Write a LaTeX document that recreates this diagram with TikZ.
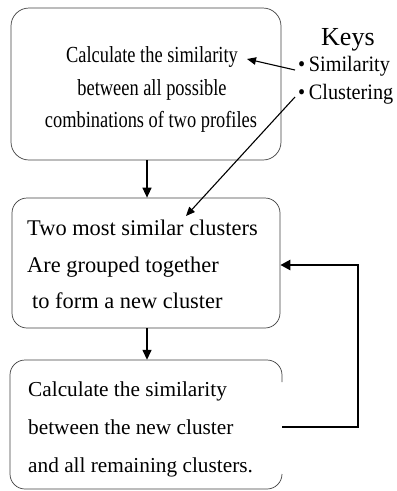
\documentclass[tikz,border=0pt]{standalone}
\usepackage{fontspec}
\setmainfont{Liberation Serif}
\newfontfamily\narrowA[FakeStretch=0.8]{Liberation Serif}
\newfontfamily\narrowB[FakeStretch=0.92]{Liberation Serif}
\usetikzlibrary{arrows.meta}
\begin{document}
\begin{tikzpicture}[x=1pt,y=-1pt,
  boxline/.style={draw=black!75, line width=0.7pt},
  txt/.style={inner sep=0pt, anchor=base},
  txtl/.style={inner sep=0pt, anchor=base west},
  flow/.style={line width=1.4pt, -{Triangle[length=10pt,width=9pt]}},
  keyarrow/.style={line width=1.1pt, -{Triangle[length=9pt,width=7.5pt]}},
  loopline/.style={line width=2.4pt, -{Triangle[length=10pt,width=10pt]}}]
\useasboundingbox (0,0) rectangle (397,491);
% boxes
\node[boxline, rounded corners=18pt, minimum width=270pt, minimum height=152pt, inner sep=0pt] (b1) at (146,84) {};
\node[boxline, rounded corners=15pt, minimum width=268pt, minimum height=130pt, inner sep=0pt] (b2) at (146,263) {};
\node[minimum width=272pt, minimum height=129pt, inner sep=0pt] (b3) at (146,424.5) {};
\draw[boxline] (282,382) -- (282,375) arc[start angle=0,end angle=90,radius=15pt] -- (25,360) arc[start angle=90,end angle=180,radius=15pt] -- (10,474) arc[start angle=180,end angle=270,radius=15pt] -- (267,489) arc[start angle=270,end angle=360,radius=15pt];
% box 1 text
\node[txt, font=\narrowA\fontsize{23}{23}\selectfont] (t11) at (152,62) {Calculate the similarity};
\node[txt, font=\narrowA\fontsize{23}{23}\selectfont] (t12) at (152,95) {between all possible};
\node[txt, font=\narrowA\fontsize{23}{23}\selectfont] (t13) at (151,127) {combinations of two profiles};
% box 2 text
\node[txtl, font=\fontsize{22.4}{22.4}\selectfont] (t21) at (27,235) {Two most similar clusters};
\node[txtl, font=\fontsize{22.4}{22.4}\selectfont] (t22) at (27,272) {Are grouped together};
\node[txtl, font=\fontsize{22.4}{22.4}\selectfont] (t23) at (32,308) {to form a new cluster};
% box 3 text
\node[txtl, font=\fontsize{21.3}{21.3}\selectfont] (t31) at (28,396) {Calculate the similarity};
\node[txtl, font=\fontsize{21.3}{21.3}\selectfont] (t32) at (28,434) {between the new cluster};
\node[txtl, font=\fontsize{21.3}{21.3}\selectfont] (t33) at (28,472) {and all remaining clusters.};
% keys
\node[txtl, font=\fontsize{26}{26}\selectfont] (keys) at (321,45) {Keys};
\node[txtl, font=\narrowB\fontsize{22}{22}\selectfont] (ksim) at (298,71) {\textbullet\,Similarity};
\node[txtl, font=\narrowB\fontsize{22}{22}\selectfont] (kclu) at (298,99) {\textbullet\,Clustering};
\coordinate (simstart) at (295,70);
\coordinate (simtip) at (247,59);
\coordinate (clustart) at (295,97);
\coordinate (clutip) at (186,216);
\draw[keyarrow] (simstart) -- (simtip);
\draw[keyarrow] (clustart) -- (clutip);
% flow
\draw[flow] (b1.south -| 147,0) -- (b2.north -| 147,0);
\draw[flow] (b2.south -| 147,0) -- (b3.north -| 147,0);
\coordinate (lc1) at (358,427);
\coordinate (lc2) at (358,265);
\draw[loopline] (b3.east |- lc1) -- (lc1) -- (lc2) -- (b2.east |- lc2);
\end{tikzpicture}
\end{document}
